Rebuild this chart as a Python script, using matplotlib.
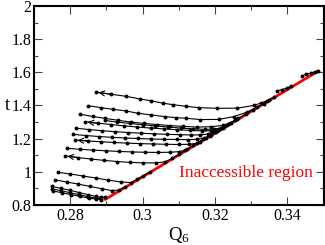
import matplotlib
matplotlib.use("Agg")
import matplotlib.pyplot as plt
from matplotlib.ticker import MultipleLocator, FuncFormatter

plt.rcParams['font.family'] = ['Liberation Serif', 'DejaVu Serif']
plt.rcParams['mathtext.fontset'] = 'custom'
plt.rcParams['mathtext.rm'] = 'Liberation Serif'
plt.rcParams['mathtext.it'] = 'Liberation Serif:italic'

# ---- data (Q6, t) ----
red_q = [0.2894, 0.3487]
red_t = [0.830, 1.610]

cA_q = [0.2872, 0.2913, 0.2955, 0.2992, 0.3024, 0.3056, 0.3084, 0.3121, 0.3155, 0.3206, 0.3261, 0.3307, 0.3326, 0.3345, 0.3362]
cA_t = [1.480, 1.468, 1.455, 1.440, 1.428, 1.414, 1.405, 1.395, 1.387, 1.383, 1.384, 1.400, 1.414, 1.430, 1.450]

cB_q = [0.2849, 0.2885, 0.2918, 0.2955, 0.2987, 0.3024, 0.3061, 0.3093, 0.3121, 0.3160, 0.3210, 0.3252, 0.3289, 0.3316, 0.3335, 0.3350]
cB_t = [1.399, 1.387, 1.377, 1.367, 1.353, 1.343, 1.333, 1.327, 1.323, 1.315, 1.316, 1.333, 1.360, 1.390, 1.412, 1.434]

cC_q = [0.2828, 0.2862, 0.2897, 0.2932, 0.2968, 0.3004, 0.3040, 0.3076, 0.3112, 0.3150, 0.3190, 0.3222, 0.3245, 0.3265, 0.3285, 0.3305]
cC_t = [1.347, 1.334, 1.322, 1.311, 1.300, 1.292, 1.285, 1.279, 1.274, 1.270, 1.272, 1.280, 1.297, 1.322, 1.348, 1.375]

cD_q = [0.2842, 0.2878, 0.2914, 0.2950, 0.2986, 0.3022, 0.3058, 0.3094, 0.3130, 0.3165, 0.3190, 0.3208, 0.3225, 0.3243, 0.3262]
cD_t = [1.302, 1.293, 1.285, 1.277, 1.270, 1.264, 1.259, 1.254, 1.250, 1.247, 1.248, 1.255, 1.272, 1.295, 1.320]

cE_q = [0.2895, 0.2930, 0.2965, 0.3000, 0.3035, 0.3070, 0.3105, 0.3140, 0.3172, 0.3198, 0.3218, 0.3236, 0.3255]
cE_t = [1.310, 1.300, 1.292, 1.284, 1.277, 1.270, 1.264, 1.259, 1.256, 1.258, 1.266, 1.286, 1.310]

cF_q = [0.2816, 0.2852, 0.2888, 0.2924, 0.2960, 0.2996, 0.3032, 0.3068, 0.3104, 0.3135, 0.3160, 0.3180, 0.3198, 0.3215, 0.3233]
cF_t = [1.263, 1.255, 1.248, 1.242, 1.237, 1.233, 1.229, 1.226, 1.224, 1.222, 1.223, 1.228, 1.240, 1.258, 1.280]

cG_q = [0.2807, 0.2843, 0.2879, 0.2915, 0.2951, 0.2987, 0.3023, 0.3059, 0.3095, 0.3125, 0.3150, 0.3170, 0.3188, 0.3205, 0.3222]
cG_t = [1.226, 1.219, 1.213, 1.208, 1.204, 1.201, 1.198, 1.196, 1.195, 1.194, 1.196, 1.203, 1.222, 1.244, 1.266]

cH_q = [0.2814, 0.2850, 0.2886, 0.2922, 0.2958, 0.2994, 0.3030, 0.3066, 0.3100, 0.3128, 0.3150, 0.3168, 0.3185, 0.3202]
cH_t = [1.192, 1.186, 1.181, 1.177, 1.173, 1.170, 1.168, 1.166, 1.165, 1.166, 1.172, 1.195, 1.217, 1.239]

cI_q = [0.2790, 0.2826, 0.2862, 0.2898, 0.2934, 0.2970, 0.3006, 0.3042, 0.3076, 0.3102, 0.3122, 0.3140, 0.3158, 0.3176]
cI_t = [1.142, 1.136, 1.131, 1.127, 1.123, 1.120, 1.118, 1.117, 1.118, 1.122, 1.135, 1.159, 1.182, 1.205]

cJ_q = [0.2786, 0.2822, 0.2858, 0.2894, 0.2930, 0.2966, 0.3002, 0.3036, 0.3062, 0.3082, 0.3100, 0.3118]
cJ_t = [1.096, 1.086, 1.077, 1.069, 1.062, 1.057, 1.054, 1.054, 1.060, 1.081, 1.105, 1.129]

cK_q = [0.2767, 0.2800, 0.2835, 0.2870, 0.2905, 0.2940, 0.2968, 0.2985, 0.3002, 0.3020]
cK_t = [0.997, 0.987, 0.975, 0.963, 0.950, 0.939, 0.935, 0.955, 0.977, 1.000]

cL_q = [0.2759, 0.2790, 0.2822, 0.2855, 0.2888, 0.2915, 0.2935, 0.2952]
cL_t = [0.951, 0.939, 0.926, 0.912, 0.898, 0.887, 0.890, 0.910]

cM1_q = [0.2750, 0.2775, 0.2800, 0.2825, 0.2850, 0.2870, 0.2885, 0.2897]
cM1_t = [0.912, 0.900, 0.888, 0.875, 0.862, 0.852, 0.846, 0.848]

cM2_q = [0.2750, 0.2775, 0.2800, 0.2825, 0.2850, 0.2870, 0.2884]
cM2_t = [0.898, 0.886, 0.874, 0.862, 0.850, 0.842, 0.838]

cM3_q = [0.2752, 0.2777, 0.2802, 0.2827, 0.2852, 0.2872, 0.2886]
cM3_t = [0.885, 0.874, 0.863, 0.852, 0.842, 0.835, 0.833]

cS1_q = [0.3372, 0.3385, 0.3398, 0.3410]
cS1_t = [1.488, 1.496, 1.505, 1.515]

cS2_q = [0.3441, 0.3452, 0.3465, 0.3476, 0.3486]
cS2_t = [1.580, 1.587, 1.596, 1.603, 1.610]

curves = [(cA_q, cA_t), (cB_q, cB_t), (cC_q, cC_t), (cD_q, cD_t), (cE_q, cE_t),
          (cF_q, cF_t), (cG_q, cG_t), (cH_q, cH_t), (cI_q, cI_t), (cJ_q, cJ_t),
          (cK_q, cK_t), (cL_q, cL_t), (cM1_q, cM1_t), (cM2_q, cM2_t), (cM3_q, cM3_t),
          (cS1_q, cS1_t), (cS2_q, cS2_t)]
arrow_curves = [(cA_q, cA_t), (cD_q, cD_t), (cH_q, cH_t), (cJ_q, cJ_t)]

x_ticks = [0.28, 0.30, 0.32, 0.34]
y_ticks = [0.8, 1.0, 1.2, 1.4, 1.6, 1.8, 2.0]

# ---- figure ----
fig = plt.figure(figsize=(3.25, 2.45), dpi=100)
ax = fig.add_axes([0.1046, 0.1633, 0.8908, 0.8122])

ax.plot(red_q, red_t, color='#ff0000', lw=2.0, zorder=1, solid_capstyle='butt')
for q, t in curves:
    ax.plot(q, t, color='black', lw=0.8, marker='o', ms=1.8, zorder=2)
for q, t in arrow_curves:
    ax.annotate('', xy=(q[0] + 0.0006, t[0] - 0.002), xytext=(q[1], t[1]),
                arrowprops=dict(arrowstyle='->', lw=0.8, color='black',
                                mutation_scale=9, shrinkA=0, shrinkB=0), zorder=3)

ax.text(0.3101, 0.993, 'Inaccessible region', color='#ff0000', fontsize=12.5,
        ha='left', va='center')

ax.set_xlim(0.27, 0.35)
ax.set_ylim(0.8, 2.0)
ax.set_xticks(x_ticks)
ax.set_yticks(y_ticks)
ax.xaxis.set_minor_locator(MultipleLocator(0.01))
ax.yaxis.set_minor_locator(MultipleLocator(0.1))
fmt = FuncFormatter(lambda v, p: '%g' % round(v, 4))
ax.xaxis.set_major_formatter(fmt)
ax.yaxis.set_major_formatter(fmt)
ax.tick_params(which='both', direction='in', top=True, right=True, labelsize=11.5, width=0.8, color='#444444')
ax.tick_params(which='major', length=6, pad=2)
ax.tick_params(which='minor', length=3)
for s in ax.spines.values():
    s.set_linewidth(1.5)

ax.set_xlabel(r'Q$_6$', fontsize=13.5, labelpad=1)
ax.set_ylabel('t', fontsize=13.5, rotation=0, labelpad=3, va='center')

fig.savefig('out.png', dpi=100)
